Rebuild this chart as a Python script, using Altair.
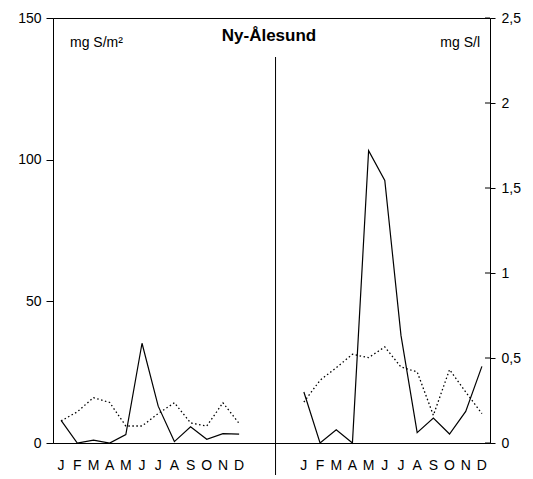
import altair as alt
import pandas as pd

months = ["J", "F", "M", "A", "M", "J", "J", "A", "S", "O", "N", "D"]
# Left panel: deposition, mg S/m2
dep_solid = [8.0, 0.0, 1.0, 0.0, 3.0, 35.2, 13.0, 0.5, 5.7, 1.3, 3.3, 3.1]
dep_dotted = [7.8, 11.0, 16.0, 14.3, 6.0, 6.0, 10.4, 14.2, 7.1, 6.0, 14.2, 6.9]
# Right panel: concentration, mg S/l
conc_solid = [0.30, 0.0, 0.078, 0.0, 1.72, 1.545, 0.633, 0.061, 0.147, 0.053, 0.186, 0.451]
conc_dotted = [0.241, 0.369, 0.443, 0.522, 0.502, 0.565, 0.447, 0.418, 0.163, 0.432, 0.30, 0.173]
left_ticks = [0, 50, 100, 150]
right_ticks = [0, 0.5, 1, 1.5, 2, 2.5]
left_start = 0
right_start = 15
n_slots = 27
divider_x = 13.75

FONT = "Liberation Sans"

def frame(vals, start, series):
    return pd.DataFrame({
        "pos": [start + i + 0.5 for i in range(12)],
        "v": vals,
        "series": series,
        "month": months,
    })

left_df = pd.concat([frame(dep_solid, left_start, "solid"), frame(dep_dotted, left_start, "dotted")])
right_df = pd.concat([frame(conc_solid, right_start, "solid"), frame(conc_dotted, right_start, "dotted")])
label_df = pd.concat([frame(dep_solid, left_start, "l"), frame(conc_solid, right_start, "r")])

xscale = alt.Scale(domain=[0, n_slots], nice=False, zero=False)
xaxis = alt.Axis(values=list(range(n_slots + 1)), labels=False, tickSize=5, title=None,
                 grid=False, domainColor="black", tickColor="black", domainWidth=1)
X = alt.X("pos:Q", scale=xscale, axis=xaxis)

lscale = alt.Scale(domain=[0, 150], nice=False)
rscale = alt.Scale(domain=[0, 2.5], nice=False)

def lines(df, yenc):
    solid = alt.Chart(df[df.series == "solid"]).mark_line(color="black", strokeWidth=1.2).encode(x=X, y=yenc)
    dotted = alt.Chart(df[df.series == "dotted"]).mark_line(
        color="black", strokeWidth=1.3, strokeDash=[1.5, 2.5]).encode(x=X, y=yenc)
    return solid + dotted

ly = alt.Y("v:Q", scale=lscale, axis=alt.Axis(values=left_ticks, title=None, grid=False, orient="left",
                                              tickSize=7, labelPadding=5, labelFontSize=14, labelFont=FONT,
                                              labelColor="black", domainColor="black", tickColor="black"))
ry = alt.Y("v:Q", scale=rscale, axis=alt.Axis(values=right_ticks, title=None, grid=False, orient="right",
                                              tickSize=5, labelPadding=6, labelFontSize=14, labelFont=FONT,
                                              labelColor="black", domainColor="black", tickColor="black",
                                              labelExpr="replace(format(datum.value, '~g'), '.', ',')"))

month_text = alt.Chart(label_df).mark_text(font=FONT, fontSize=14, color="black", baseline="alphabetic").encode(
    x=X, y=alt.value(452), text="month:N")

divider = alt.Chart(pd.DataFrame({"x": [divider_x]})).mark_rule(color="black", strokeWidth=1).encode(
    x=alt.X("x:Q", scale=xscale, axis=None), y=alt.value(39), y2=alt.value(457))

title = alt.Chart(pd.DataFrame({"t": ["Ny-Ålesund"]})).mark_text(
    font=FONT, fontSize=17, fontWeight="bold", color="black", baseline="middle", align="center").encode(
    text="t:N", x=alt.value(216), y=alt.value(18))
unit_l = alt.Chart(pd.DataFrame({"t": ["mg S/m²"]})).mark_text(
    font=FONT, fontSize=14, color="black", baseline="middle", align="left").encode(
    text="t:N", x=alt.value(17), y=alt.value(25))
unit_r = alt.Chart(pd.DataFrame({"t": ["mg S/l"]})).mark_text(
    font=FONT, fontSize=14, color="black", baseline="middle", align="right").encode(
    text="t:N", x=alt.value(427), y=alt.value(25))

inner_ticks = alt.Chart(pd.DataFrame({"v": right_ticks})).mark_rule(color="black").encode(
    x=alt.value(432), x2=alt.value(437), y=ry)

left_layer = alt.layer(lines(left_df, ly), month_text, divider, title, unit_l, unit_r)
right_layer = alt.layer(lines(right_df, ry), inner_ticks)

chart = alt.layer(left_layer, right_layer).resolve_scale(y="independent").properties(
    width=437, height=425,
    autosize=alt.AutoSizeParams(type="none"),
    padding={"left": 53, "top": 18, "right": 43, "bottom": 36},
    background="white",
).configure_view(stroke="black", strokeWidth=1)

chart.save("out.html", embed_options={"renderer": "svg", "actions": False})
